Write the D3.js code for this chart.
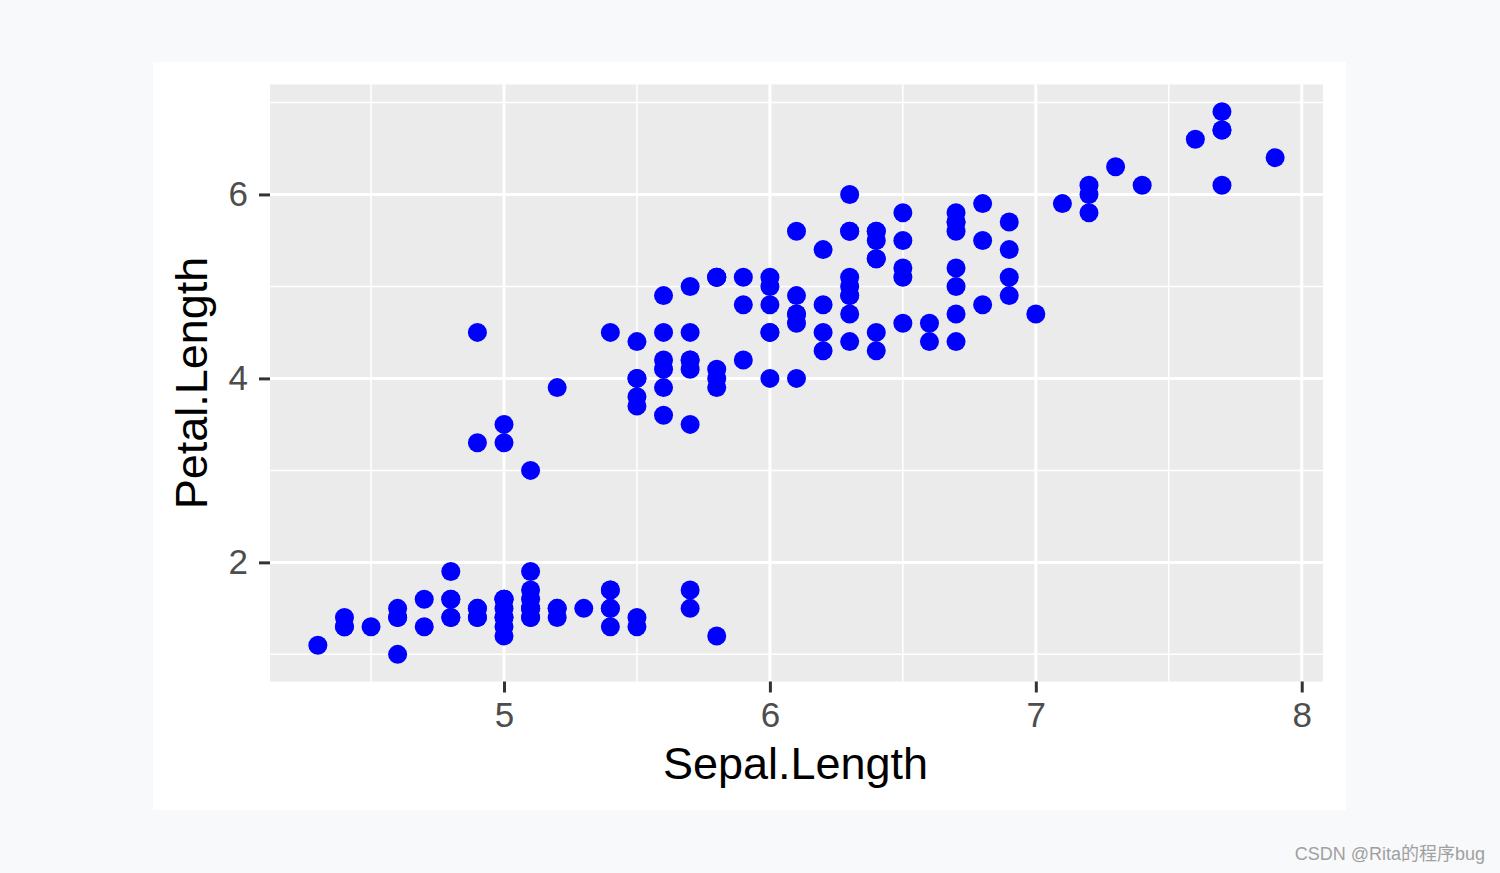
<!DOCTYPE html>
<html><head><meta charset="utf-8">
<script src="https://cdn.jsdelivr.net/npm/d3@7"></script>
<style>html,body{margin:0;padding:0;background:#f8f9fb;}svg{display:block;}</style>
</head><body>
<svg id="c" width="1500" height="873"></svg>
<script>
const sepalLength = [
5.1,4.9,4.7,4.6,5.0,5.4,4.6,5.0,4.4,4.9,5.4,4.8,4.8,4.3,5.8,5.7,5.4,5.1,5.7,5.1,5.4,5.1,4.6,5.1,4.8,5.0,5.0,5.2,5.2,4.7,4.8,5.4,5.2,5.5,4.9,5.0,5.5,4.9,4.4,5.1,5.0,4.5,4.4,5.0,5.1,4.8,5.1,4.6,5.3,5.0,
7.0,6.4,6.9,5.5,6.5,5.7,6.3,4.9,6.6,5.2,5.0,5.9,6.0,6.1,5.6,6.7,5.6,5.8,6.2,5.6,5.9,6.1,6.3,6.1,6.4,6.6,6.8,6.7,6.0,5.7,5.5,5.5,5.8,6.0,5.4,6.0,6.7,6.3,5.6,5.5,5.5,6.1,5.8,5.0,5.6,5.7,5.7,6.2,5.1,5.7,
6.3,5.8,7.1,6.3,6.5,7.6,4.9,7.3,6.7,7.2,6.5,6.4,6.8,5.7,5.8,6.4,6.5,7.7,7.7,6.0,6.9,5.6,7.7,6.3,6.7,7.2,6.2,6.1,6.4,7.2,7.4,7.9,6.4,6.3,6.1,7.7,6.3,6.4,6.0,6.9,6.7,6.9,5.8,6.8,6.7,6.7,6.3,6.5,6.2,5.9];
const petalLength = [
1.4,1.4,1.3,1.5,1.4,1.7,1.4,1.5,1.4,1.5,1.5,1.6,1.4,1.1,1.2,1.5,1.3,1.4,1.7,1.5,1.7,1.5,1.0,1.7,1.9,1.6,1.6,1.5,1.4,1.6,1.6,1.5,1.5,1.4,1.5,1.2,1.3,1.4,1.3,1.5,1.3,1.3,1.3,1.6,1.9,1.4,1.6,1.4,1.5,1.4,
4.7,4.5,4.9,4.0,4.6,4.5,4.7,3.3,4.6,3.9,3.5,4.2,4.0,4.7,3.6,4.4,4.5,4.1,4.5,3.9,4.8,4.0,4.9,4.7,4.3,4.4,4.8,5.0,4.5,3.5,3.8,3.7,3.9,5.1,4.5,4.5,4.7,4.4,4.1,4.0,4.4,4.6,4.0,3.3,4.2,4.2,4.2,4.3,3.0,4.1,
6.0,5.1,5.9,5.6,5.8,6.6,4.5,6.3,5.8,6.1,5.1,5.3,5.5,5.0,5.1,5.3,5.5,6.7,6.9,5.0,5.7,4.9,6.7,4.9,5.7,6.0,4.8,4.9,5.6,5.8,6.1,6.4,5.6,5.1,5.6,6.1,5.6,5.5,4.8,5.4,5.6,5.1,5.1,5.9,5.7,5.2,5.0,5.2,5.4,5.1];
const xTicks = [5, 6, 7, 8];
const xMinor = [4.5, 5.5, 6.5, 7.5];
const yTicks = [2, 4, 6];
const yMinor = [1, 3, 5, 7];
const xTitle = "Sepal.Length";
const yTitle = "Petal.Length";

const svg = d3.select("#c");
svg.append("rect").attr("x",0).attr("y",0).attr("width",1500).attr("height",873).attr("fill","#f8f9fb");
svg.append("rect").attr("x",153).attr("y",62).attr("width",1193).attr("height",748).attr("fill","#ffffff");

const L = 270, R = 1323, T = 84.5, B = 681.5;
const xExt = d3.extent(sepalLength), yExt = d3.extent(petalLength);
const xPad = (xExt[1]-xExt[0])*0.05, yPad = (yExt[1]-yExt[0])*0.05;
const x = d3.scaleLinear().domain([xExt[0]-xPad, xExt[1]+xPad]).range([L, R]);
const y = d3.scaleLinear().domain([yExt[0]-yPad, yExt[1]+yPad]).range([B, T]);

svg.append("rect").attr("x",L).attr("y",T).attr("width",R-L).attr("height",B-T).attr("fill","#ebebeb");

const g = svg.append("g");
g.selectAll(".xmin").data(xMinor).join("line")
  .attr("x1",d=>x(d)).attr("x2",d=>x(d)).attr("y1",T).attr("y2",B)
  .attr("stroke","#fff").attr("stroke-width",1.5);
g.selectAll(".ymin").data(yMinor).join("line")
  .attr("y1",d=>y(d)).attr("y2",d=>y(d)).attr("x1",L).attr("x2",R)
  .attr("stroke","#fff").attr("stroke-width",1.5);
g.selectAll(".xmaj").data(xTicks).join("line")
  .attr("x1",d=>x(d)).attr("x2",d=>x(d)).attr("y1",T).attr("y2",B)
  .attr("stroke","#fff").attr("stroke-width",3);
g.selectAll(".ymaj").data(yTicks).join("line")
  .attr("y1",d=>y(d)).attr("y2",d=>y(d)).attr("x1",L).attr("x2",R)
  .attr("stroke","#fff").attr("stroke-width",3);

const xAxis = svg.append("g").attr("transform",`translate(0,${B})`)
  .call(d3.axisBottom(x).tickValues(xTicks).tickSize(11).tickPadding(10).tickFormat(d3.format("d")));
const yAxis = svg.append("g").attr("transform",`translate(${L},0)`)
  .call(d3.axisLeft(y).tickValues(yTicks).tickSize(11).tickPadding(11).tickFormat(d3.format("d")));
[xAxis, yAxis].forEach(a=>{
  a.select(".domain").remove();
  a.selectAll(".tick line").attr("stroke","#333").attr("stroke-width",3);
  a.selectAll(".tick text").attr("fill","#4d4d4d").attr("font-family","Liberation Sans, Arial, sans-serif").attr("font-size",35);
});

svg.append("g").selectAll("circle").data(sepalLength.map((v,i)=>[v,petalLength[i]])).join("circle")
  .attr("cx",d=>x(d[0])).attr("cy",d=>y(d[1])).attr("r",9.5).attr("fill","#0000ff");

svg.append("text").attr("x",(L+R)/2 - 1).attr("y",779).attr("text-anchor","middle")
  .attr("font-family","Liberation Sans, Arial, sans-serif").attr("font-size",45).attr("fill","#000").text(xTitle);
svg.append("text").attr("transform",`translate(207,${(T+B)/2}) rotate(-90)`).attr("text-anchor","middle")
  .attr("font-family","Liberation Sans, Arial, sans-serif").attr("font-size",45).attr("fill","#000").text(yTitle);

svg.append("text").attr("x",1485).attr("y",860).attr("text-anchor","end")
  .attr("font-family","Liberation Sans, Noto Sans CJK SC, sans-serif").attr("font-size",18).attr("fill","#a0a0a0").text("CSDN @Rita的程序bug");
</script>
</body></html>
